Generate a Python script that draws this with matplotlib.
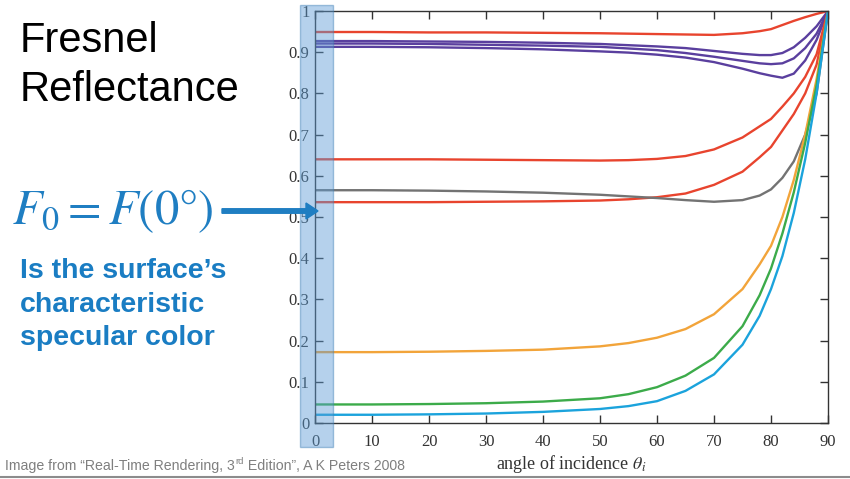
import matplotlib
matplotlib.use("Agg")
import matplotlib.pyplot as plt
from matplotlib.patches import Rectangle, FancyArrow
from matplotlib.lines import Line2D

angles = [0, 10, 20, 30, 40, 50, 55, 60, 65, 70, 75, 78, 80, 82, 84, 86, 88, 90]

# reflectance curves
red_top = [0.949, 0.949, 0.948, 0.948, 0.947, 0.946, 0.945, 0.944, 0.943, 0.942, 0.946, 0.951, 0.956, 0.966, 0.976, 0.985, 0.993, 1.0]
purple_a = [0.927, 0.927, 0.926, 0.925, 0.923, 0.920, 0.917, 0.914, 0.910, 0.903, 0.896, 0.893, 0.893, 0.898, 0.912, 0.935, 0.963, 1.0]
purple_b = [0.921, 0.921, 0.920, 0.918, 0.916, 0.913, 0.909, 0.905, 0.898, 0.889, 0.879, 0.873, 0.871, 0.873, 0.885, 0.910, 0.945, 1.0]
purple_c = [0.913, 0.913, 0.912, 0.910, 0.907, 0.902, 0.899, 0.894, 0.887, 0.876, 0.860, 0.849, 0.843, 0.838, 0.848, 0.880, 0.930, 1.0]
red_mid = [0.640, 0.640, 0.640, 0.639, 0.638, 0.637, 0.638, 0.641, 0.648, 0.664, 0.693, 0.720, 0.738, 0.768, 0.800, 0.840, 0.895, 1.0]
red_low = [0.536, 0.536, 0.536, 0.537, 0.538, 0.540, 0.543, 0.548, 0.557, 0.578, 0.610, 0.645, 0.670, 0.710, 0.750, 0.800, 0.870, 1.0]
gray = [0.565, 0.565, 0.564, 0.562, 0.559, 0.554, 0.550, 0.546, 0.541, 0.537, 0.541, 0.552, 0.567, 0.595, 0.635, 0.700, 0.800, 1.0]
orange = [0.172, 0.172, 0.173, 0.175, 0.178, 0.186, 0.194, 0.207, 0.228, 0.264, 0.325, 0.385, 0.430, 0.500, 0.590, 0.700, 0.835, 1.0]
green = [0.045, 0.045, 0.046, 0.048, 0.052, 0.060, 0.070, 0.087, 0.115, 0.158, 0.235, 0.310, 0.375, 0.460, 0.560, 0.680, 0.820, 1.0]
blue = [0.020, 0.020, 0.021, 0.023, 0.027, 0.034, 0.041, 0.053, 0.078, 0.118, 0.190, 0.260, 0.325, 0.405, 0.510, 0.640, 0.800, 1.0]

series = [
    (red_top, "#e8442e"),
    (purple_a, "#5a3f9e"),
    (purple_b, "#5a3f9e"),
    (purple_c, "#5a3f9e"),
    (red_mid, "#e8442e"),
    (red_low, "#e8442e"),
    (gray, "#737373"),
    (orange, "#f2a43a"),
    (green, "#3cab4a"),
    (blue, "#1ba3dc"),
]

xticks = [0, 10, 20, 30, 40, 50, 60, 70, 80, 90]
yticks = [0, 0.1, 0.2, 0.3, 0.4, 0.5, 0.6, 0.7, 0.8, 0.9, 1.0]
ytick_labels = ["0", "0.1", "0.2", "0.3", "0.4", "0.5", "0.6", "0.7", "0.8", "0.9", "1"]

plt.rcParams["mathtext.fontset"] = "stix"

W, H = 850, 479
fig = plt.figure(figsize=(8.5, 4.79), dpi=100)
ax = fig.add_axes([315 / W, 1 - 423 / H, (828 - 315) / W, (423 - 11) / H])

for vals, col in series:
    ax.plot(angles, vals, color=col, lw=1.7, solid_capstyle="round", solid_joinstyle="round")

ax.set_xlim(0, 90)
ax.set_ylim(0, 1)
ax.set_xticks(xticks)
ax.set_yticks(yticks)
ax.set_yticklabels(ytick_labels)
ax.tick_params(direction="in", length=6, width=1, color="#333333",
               top=True, right=True, labelsize=12, labelcolor="#333333")
ax.tick_params(axis="x", pad=8)
ax.tick_params(axis="y", pad=4)
for lab in ax.get_xticklabels() + ax.get_yticklabels():
    lab.set_family("Liberation Serif")
for sp in ax.spines.values():
    sp.set_color("#333333")
    sp.set_linewidth(1)

ax.set_xlabel(r"angle of incidence $\theta_i$", family="Liberation Serif",
              fontsize=13, color="#333333", labelpad=2)

# highlight band at 0 degrees
fig.patches.append(Rectangle((300 / W, 1 - 447 / H), 33 / W, 442 / H,
                             transform=fig.transFigure, facecolor="#5b9bd5",
                             alpha=0.45, edgecolor="#3f7fb5", lw=1, zorder=5))

# left side texts
fig.text(20 / W, 1 - 41 / H, "Fresnel", family="Liberation Sans", fontsize=30,
         va="center", ha="left", color="black")
fig.text(20 / W, 1 - 90 / H, "Reflectance", family="Liberation Sans", fontsize=30,
         va="center", ha="left", color="black")

fig.text(12 / W, 1 - 211 / H, r"$F_0 = F(0°)$", fontsize=35, color="#1f7ec2",
         va="center", ha="left")
fig.patches.append(FancyArrow(222 / W, 1 - 211 / H, 96 / W, 0, width=4.5 / H,
                              head_width=16 / H, head_length=12 / W,
                              length_includes_head=True, transform=fig.transFigure,
                              color="#1f7ec2", zorder=6))

for i, line in enumerate(["Is the surface\u2019s", "characteristic", "specular color"]):
    fig.text(20 / W, 1 - (278 + 33.5 * i) / H, line, family="Liberation Sans",
             fontweight="bold", fontsize=20.5, color="#1a7dc3", va="baseline", ha="left")

# footer, with a raised "rd"
base_y = 1 - 470 / H
t1 = fig.text(5 / W, base_y, "Image from \u201cReal-Time Rendering, 3",
              family="Liberation Sans", fontsize=10.2, color="#7f7f7f", va="baseline")
t2 = ax.annotate("rd", xy=(1, base_y), xycoords=(t1, "figure fraction"),
                 xytext=(0.4, 4), textcoords="offset points", family="Liberation Sans",
                 fontsize=6.8, color="#7f7f7f", va="baseline", annotation_clip=False)
ax.annotate(" Edition\u201d, A K Peters 2008", xy=(1, base_y),
            xycoords=(t2, "figure fraction"), xytext=(0, 0), textcoords="offset points",
            family="Liberation Sans", fontsize=10.2, color="#7f7f7f", va="baseline",
            annotation_clip=False)

fig.lines.append(Line2D([0, 1], [1 - 477 / H, 1 - 477 / H], transform=fig.transFigure,
                        color="#8c8c8c", lw=1.5))

fig.savefig("out.png", dpi=100)
